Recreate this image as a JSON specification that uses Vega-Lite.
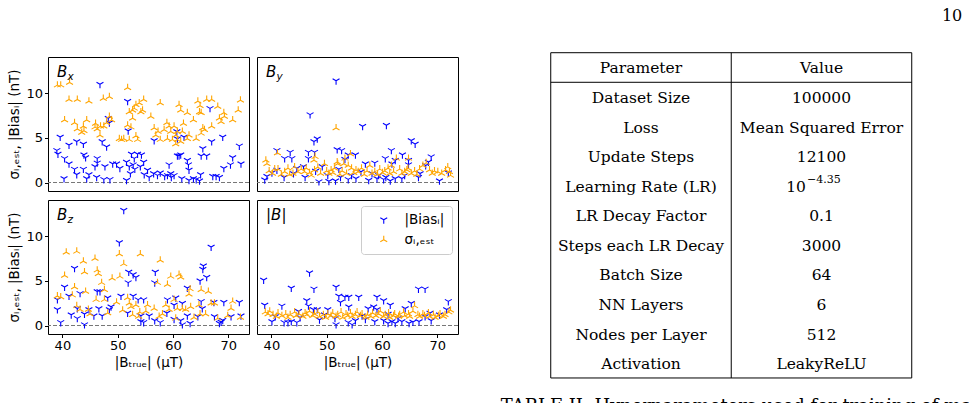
{
  "$schema": "https://vega.github.io/schema/vega-lite/v6.json",
  "background": "white",
  "padding": {"left": 7, "top": 8, "right": 0, "bottom": 0},
  "config": {
    "font": "DejaVu Sans",
    "view": {"stroke": "black", "strokeWidth": 1},
    "axis": {
      "domain": false, "grid": false, "ticks": true, "tickColor": "black", "tickWidth": 1, "tickSize": 3.5,
      "labelFont": "DejaVu Sans", "labelFontSize": 13, "labelColor": "black", "labelPadding": 2, "labelFlush": false,
      "titleFont": "DejaVu Sans", "titleFontSize": 13.5, "titleFontWeight": "normal", "titleColor": "black"
    }
  },
  "datasets": {
    "pts": [
      {"p":"Bx","s":"b","x":39.0,"y":3.6},{"p":"Bx","s":"b","x":39.2,"y":3.2},{"p":"Bx","s":"b","x":39.6,"y":5.1},{"p":"Bx","s":"b","x":40.4,"y":2.7},{"p":"Bx","s":"b","x":40.3,"y":0.45},{"p":"Bx","s":"b","x":41.2,"y":2.1},{"p":"Bx","s":"b","x":41.2,"y":4.2},{"p":"Bx","s":"b","x":42.2,"y":1.5},{"p":"Bx","s":"b","x":42.6,"y":0.9},{"p":"Bx","s":"b","x":42.6,"y":4.6},{"p":"Bx","s":"b","x":43.8,"y":4.3},{"p":"Bx","s":"b","x":43.8,"y":1.5},{"p":"Bx","s":"b","x":43.9,"y":3.1},{"p":"Bx","s":"b","x":44.2,"y":2.8},{"p":"Bx","s":"b","x":44.4,"y":0.45},{"p":"Bx","s":"b","x":44.8,"y":0.9},{"p":"Bx","s":"b","x":45.9,"y":1.8},{"p":"Bx","s":"b","x":46.3,"y":2.7},{"p":"Bx","s":"b","x":46.3,"y":2.2},{"p":"Bx","s":"b","x":46.2,"y":0.6},{"p":"Bx","s":"b","x":46.8,"y":11.0},{"p":"Bx","s":"b","x":47.2,"y":4.6},{"p":"Bx","s":"b","x":48.0,"y":4.0},{"p":"Bx","s":"b","x":47.7,"y":1.8},{"p":"Bx","s":"b","x":47.5,"y":0.35},{"p":"Bx","s":"b","x":48.3,"y":7.2},{"p":"Bx","s":"b","x":48.5,"y":6.7},{"p":"Bx","s":"b","x":48.6,"y":0.35},{"p":"Bx","s":"b","x":49.1,"y":2.1},{"p":"Bx","s":"b","x":49.8,"y":2.1},{"p":"Bx","s":"b","x":50.4,"y":1.6},{"p":"Bx","s":"b","x":51.8,"y":9.1},{"p":"Bx","s":"b","x":51.9,"y":5.8},{"p":"Bx","s":"b","x":51.6,"y":2.3},{"p":"Bx","s":"b","x":52.1,"y":1.8},{"p":"Bx","s":"b","x":51.6,"y":0.25},{"p":"Bx","s":"b","x":52.5,"y":3.2},{"p":"Bx","s":"b","x":53.0,"y":2.7},{"p":"Bx","s":"b","x":52.8,"y":2.0},{"p":"Bx","s":"b","x":53.1,"y":1.5},{"p":"Bx","s":"b","x":52.3,"y":1.0},{"p":"Bx","s":"b","x":53.6,"y":3.2},{"p":"Bx","s":"b","x":54.3,"y":3.1},{"p":"Bx","s":"b","x":54.1,"y":1.8},{"p":"Bx","s":"b","x":54.7,"y":2.3},{"p":"Bx","s":"b","x":54.8,"y":0.9},{"p":"Bx","s":"b","x":55.7,"y":0.6},{"p":"Bx","s":"b","x":56.6,"y":4.7},{"p":"Bx","s":"b","x":56.5,"y":1.0},{"p":"Bx","s":"b","x":57.2,"y":0.8},{"p":"Bx","s":"b","x":57.7,"y":1.1},{"p":"Bx","s":"b","x":58.5,"y":0.7},{"p":"Bx","s":"b","x":59.0,"y":0.8},{"p":"Bx","s":"b","x":59.3,"y":2.0},{"p":"Bx","s":"b","x":59.6,"y":1.0},{"p":"Bx","s":"b","x":59.7,"y":0.6},{"p":"Bx","s":"b","x":60.2,"y":0.8},{"p":"Bx","s":"b","x":60.7,"y":5.7},{"p":"Bx","s":"b","x":60.8,"y":4.9},{"p":"Bx","s":"b","x":60.8,"y":3.0},{"p":"Bx","s":"b","x":61.1,"y":3.0},{"p":"Bx","s":"b","x":61.4,"y":3.1},{"p":"Bx","s":"b","x":61.6,"y":0.45},{"p":"Bx","s":"b","x":62.0,"y":5.1},{"p":"Bx","s":"b","x":62.6,"y":2.5},{"p":"Bx","s":"b","x":62.8,"y":2.0},{"p":"Bx","s":"b","x":62.9,"y":1.4},{"p":"Bx","s":"b","x":62.9,"y":0.25},{"p":"Bx","s":"b","x":63.7,"y":0.45},{"p":"Bx","s":"b","x":64.2,"y":0.35},{"p":"Bx","s":"b","x":64.8,"y":0.2},{"p":"Bx","s":"b","x":65.0,"y":0.9},{"p":"Bx","s":"b","x":65.1,"y":3.0},{"p":"Bx","s":"b","x":65.4,"y":3.8},{"p":"Bx","s":"b","x":66.1,"y":3.0},{"p":"Bx","s":"b","x":66.7,"y":8.3},{"p":"Bx","s":"b","x":67.0,"y":4.6},{"p":"Bx","s":"b","x":67.2,"y":0.7},{"p":"Bx","s":"b","x":67.8,"y":0.7},{"p":"Bx","s":"b","x":68.4,"y":0.6},{"p":"Bx","s":"b","x":69.2,"y":1.6},{"p":"Bx","s":"b","x":69.0,"y":5.1},{"p":"Bx","s":"b","x":70.4,"y":2.0},{"p":"Bx","s":"b","x":70.8,"y":2.8},{"p":"Bx","s":"b","x":72.0,"y":4.1},{"p":"Bx","s":"b","x":72.3,"y":2.1},{"p":"Bx","s":"b","x":55.4,"y":1.4},
      {"p":"Bx","s":"s","x":39.1,"y":10.9},{"p":"Bx","s":"s","x":39.7,"y":10.9},{"p":"Bx","s":"s","x":41.3,"y":11.2},{"p":"Bx","s":"s","x":41.2,"y":9.3},{"p":"Bx","s":"s","x":42.7,"y":9.3},{"p":"Bx","s":"s","x":44.8,"y":9.1},{"p":"Bx","s":"s","x":40.4,"y":7.0},{"p":"Bx","s":"s","x":42.2,"y":6.7},{"p":"Bx","s":"s","x":43.8,"y":6.3},{"p":"Bx","s":"s","x":44.4,"y":7.0},{"p":"Bx","s":"s","x":42.7,"y":6.0},{"p":"Bx","s":"s","x":43.9,"y":5.8},{"p":"Bx","s":"s","x":43.5,"y":5.6},{"p":"Bx","s":"s","x":46.0,"y":6.6},{"p":"Bx","s":"s","x":46.3,"y":6.0},{"p":"Bx","s":"s","x":46.9,"y":6.3},{"p":"Bx","s":"s","x":45.9,"y":6.2},{"p":"Bx","s":"s","x":46.8,"y":5.3},{"p":"Bx","s":"s","x":47.5,"y":6.3},{"p":"Bx","s":"s","x":48.0,"y":6.7},{"p":"Bx","s":"s","x":47.4,"y":9.4},{"p":"Bx","s":"s","x":48.5,"y":9.6},{"p":"Bx","s":"s","x":48.9,"y":7.0},{"p":"Bx","s":"s","x":48.5,"y":7.4},{"p":"Bx","s":"s","x":50.3,"y":4.9},{"p":"Bx","s":"s","x":50.7,"y":4.8},{"p":"Bx","s":"s","x":51.1,"y":4.9},{"p":"Bx","s":"s","x":51.8,"y":10.6},{"p":"Bx","s":"s","x":52.1,"y":7.9},{"p":"Bx","s":"s","x":51.8,"y":6.4},{"p":"Bx","s":"s","x":52.4,"y":6.2},{"p":"Bx","s":"s","x":52.7,"y":8.1},{"p":"Bx","s":"s","x":53.3,"y":8.7},{"p":"Bx","s":"s","x":53.0,"y":8.3},{"p":"Bx","s":"s","x":52.7,"y":7.2},{"p":"Bx","s":"s","x":52.1,"y":4.8},{"p":"Bx","s":"s","x":53.3,"y":5.2},{"p":"Bx","s":"s","x":53.6,"y":4.8},{"p":"Bx","s":"s","x":54.2,"y":7.9},{"p":"Bx","s":"s","x":54.7,"y":9.3},{"p":"Bx","s":"s","x":54.5,"y":8.1},{"p":"Bx","s":"s","x":53.9,"y":8.9},{"p":"Bx","s":"s","x":56.0,"y":7.4},{"p":"Bx","s":"s","x":56.6,"y":6.1},{"p":"Bx","s":"s","x":56.9,"y":5.3},{"p":"Bx","s":"s","x":57.7,"y":8.9},{"p":"Bx","s":"s","x":57.3,"y":5.7},{"p":"Bx","s":"s","x":57.7,"y":4.8},{"p":"Bx","s":"s","x":58.4,"y":5.9},{"p":"Bx","s":"s","x":58.9,"y":6.7},{"p":"Bx","s":"s","x":59.3,"y":6.3},{"p":"Bx","s":"s","x":59.6,"y":5.7},{"p":"Bx","s":"s","x":59.0,"y":4.9},{"p":"Bx","s":"s","x":59.9,"y":4.8},{"p":"Bx","s":"s","x":60.2,"y":6.3},{"p":"Bx","s":"s","x":60.5,"y":5.3},{"p":"Bx","s":"s","x":60.8,"y":5.7},{"p":"Bx","s":"s","x":60.8,"y":4.8},{"p":"Bx","s":"s","x":61.4,"y":4.6},{"p":"Bx","s":"s","x":61.1,"y":8.7},{"p":"Bx","s":"s","x":61.4,"y":8.1},{"p":"Bx","s":"s","x":61.9,"y":6.6},{"p":"Bx","s":"s","x":61.7,"y":5.7},{"p":"Bx","s":"s","x":60.5,"y":4.3},{"p":"Bx","s":"s","x":62.6,"y":7.8},{"p":"Bx","s":"s","x":62.9,"y":5.3},{"p":"Bx","s":"s","x":62.6,"y":4.9},{"p":"Bx","s":"s","x":63.7,"y":7.0},{"p":"Bx","s":"s","x":64.2,"y":4.9},{"p":"Bx","s":"s","x":64.5,"y":9.1},{"p":"Bx","s":"s","x":64.9,"y":8.6},{"p":"Bx","s":"s","x":64.8,"y":7.9},{"p":"Bx","s":"s","x":65.1,"y":7.8},{"p":"Bx","s":"s","x":65.4,"y":6.1},{"p":"Bx","s":"s","x":65.1,"y":5.5},{"p":"Bx","s":"s","x":65.7,"y":5.9},{"p":"Bx","s":"s","x":66.1,"y":9.3},{"p":"Bx","s":"s","x":67.0,"y":9.3},{"p":"Bx","s":"s","x":67.0,"y":6.3},{"p":"Bx","s":"s","x":68.1,"y":8.5},{"p":"Bx","s":"s","x":68.4,"y":7.2},{"p":"Bx","s":"s","x":68.7,"y":6.8},{"p":"Bx","s":"s","x":69.2,"y":7.8},{"p":"Bx","s":"s","x":69.3,"y":7.4},{"p":"Bx","s":"s","x":70.8,"y":7.0},{"p":"Bx","s":"s","x":71.8,"y":8.1},{"p":"Bx","s":"s","x":72.2,"y":9.2},
      {"p":"By","s":"b","x":51.7,"y":11.4},{"p":"By","s":"b","x":47.0,"y":7.6},{"p":"By","s":"b","x":56.5,"y":6.3},{"p":"By","s":"b","x":60.8,"y":6.4},{"p":"By","s":"b","x":48.3,"y":4.9},{"p":"By","s":"b","x":47.7,"y":4.6},{"p":"By","s":"b","x":65.3,"y":4.7},{"p":"By","s":"b","x":66.0,"y":4.3},{"p":"By","s":"b","x":51.9,"y":3.7},{"p":"By","s":"b","x":52.7,"y":3.6},{"p":"By","s":"b","x":41.0,"y":3.6},{"p":"By","s":"b","x":43.4,"y":3.4},{"p":"By","s":"b","x":42.4,"y":2.7},{"p":"By","s":"b","x":43.7,"y":2.7},{"p":"By","s":"b","x":46.7,"y":3.4},{"p":"By","s":"b","x":47.8,"y":3.4},{"p":"By","s":"b","x":46.7,"y":2.7},{"p":"By","s":"b","x":53.9,"y":3.1},{"p":"By","s":"b","x":53.3,"y":2.6},{"p":"By","s":"b","x":55.2,"y":3.1},{"p":"By","s":"b","x":61.7,"y":3.6},{"p":"By","s":"b","x":63.7,"y":3.1},{"p":"By","s":"b","x":68.9,"y":2.9},{"p":"By","s":"b","x":68.4,"y":2.3},{"p":"By","s":"b","x":60.6,"y":2.7},{"p":"By","s":"b","x":61.8,"y":2.1},{"p":"By","s":"b","x":62.4,"y":2.5},{"p":"By","s":"b","x":64.8,"y":2.5},{"p":"By","s":"b","x":58.7,"y":2.2},{"p":"By","s":"b","x":57.0,"y":2.1},{"p":"By","s":"b","x":45.8,"y":1.8},{"p":"By","s":"b","x":44.6,"y":1.6},{"p":"By","s":"b","x":49.2,"y":1.8},{"p":"By","s":"b","x":52.2,"y":1.5},{"p":"By","s":"b","x":41.0,"y":1.4},{"p":"By","s":"b","x":40.1,"y":1.1},{"p":"By","s":"b","x":39.2,"y":0.7},{"p":"By","s":"b","x":38.8,"y":0.3},{"p":"By","s":"b","x":42.3,"y":0.6},{"p":"By","s":"b","x":46.1,"y":0.6},{"p":"By","s":"b","x":48.6,"y":0.1},{"p":"By","s":"b","x":50.2,"y":0.8},{"p":"By","s":"b","x":50.4,"y":0.15},{"p":"By","s":"b","x":51.6,"y":0.2},{"p":"By","s":"b","x":52.5,"y":0.6},{"p":"By","s":"b","x":53.9,"y":0.35},{"p":"By","s":"b","x":54.5,"y":0.8},{"p":"By","s":"b","x":55.3,"y":0.45},{"p":"By","s":"b","x":57.6,"y":0.25},{"p":"By","s":"b","x":59.1,"y":0.45},{"p":"By","s":"b","x":59.4,"y":0.8},{"p":"By","s":"b","x":60.3,"y":0.35},{"p":"By","s":"b","x":60.7,"y":0.6},{"p":"By","s":"b","x":61.5,"y":0.2},{"p":"By","s":"b","x":62.4,"y":0.45},{"p":"By","s":"b","x":63.6,"y":0.45},{"p":"By","s":"b","x":64.1,"y":0.8},{"p":"By","s":"b","x":66.6,"y":0.6},{"p":"By","s":"b","x":66.9,"y":1.0},{"p":"By","s":"b","x":70.4,"y":0.2},{"p":"By","s":"b","x":72.0,"y":1.1},{"p":"By","s":"b","x":48.0,"y":1.3},{"p":"By","s":"b","x":58.2,"y":1.0},{"p":"By","s":"b","x":64.8,"y":2.0},{"p":"By","s":"b","x":67.9,"y":1.9},{"p":"By","s":"b","x":56.2,"y":1.2},{"p":"By","s":"b","x":44.0,"y":1.0},
      {"p":"By","s":"s","x":39.0,"y":2.5},{"p":"By","s":"s","x":39.2,"y":2.1},{"p":"By","s":"s","x":39.6,"y":1.3},{"p":"By","s":"s","x":40.2,"y":1.0},{"p":"By","s":"s","x":40.6,"y":1.5},{"p":"By","s":"s","x":41.1,"y":3.3},{"p":"By","s":"s","x":41.2,"y":1.5},{"p":"By","s":"s","x":41.8,"y":0.9},{"p":"By","s":"s","x":42.4,"y":1.2},{"p":"By","s":"s","x":43.0,"y":1.6},{"p":"By","s":"s","x":43.3,"y":0.9},{"p":"By","s":"s","x":43.9,"y":1.0},{"p":"By","s":"s","x":44.2,"y":1.75},{"p":"By","s":"s","x":44.8,"y":1.2},{"p":"By","s":"s","x":45.4,"y":1.5},{"p":"By","s":"s","x":46.0,"y":1.2},{"p":"By","s":"s","x":46.3,"y":1.6},{"p":"By","s":"s","x":46.9,"y":1.1},{"p":"By","s":"s","x":47.2,"y":0.8},{"p":"By","s":"s","x":47.7,"y":2.5},{"p":"By","s":"s","x":47.8,"y":1.4},{"p":"By","s":"s","x":47.9,"y":2.9},{"p":"By","s":"s","x":48.4,"y":1.7},{"p":"By","s":"s","x":48.9,"y":1.0},{"p":"By","s":"s","x":49.6,"y":2.1},{"p":"By","s":"s","x":50.0,"y":1.3},{"p":"By","s":"s","x":50.4,"y":1.0},{"p":"By","s":"s","x":50.8,"y":1.4},{"p":"By","s":"s","x":51.1,"y":1.1},{"p":"By","s":"s","x":51.4,"y":1.6},{"p":"By","s":"s","x":51.7,"y":6.1},{"p":"By","s":"s","x":51.9,"y":2.3},{"p":"By","s":"s","x":52.0,"y":2.1},{"p":"By","s":"s","x":52.4,"y":0.9},{"p":"By","s":"s","x":52.8,"y":1.3},{"p":"By","s":"s","x":53.1,"y":2.1},{"p":"By","s":"s","x":53.3,"y":2.7},{"p":"By","s":"s","x":53.6,"y":1.0},{"p":"By","s":"s","x":53.9,"y":1.9},{"p":"By","s":"s","x":54.3,"y":3.2},{"p":"By","s":"s","x":54.5,"y":1.6},{"p":"By","s":"s","x":54.9,"y":1.1},{"p":"By","s":"s","x":55.3,"y":1.4},{"p":"By","s":"s","x":55.7,"y":1.2},{"p":"By","s":"s","x":56.3,"y":1.6},{"p":"By","s":"s","x":56.8,"y":0.9},{"p":"By","s":"s","x":57.3,"y":1.3},{"p":"By","s":"s","x":57.8,"y":1.9},{"p":"By","s":"s","x":58.2,"y":1.0},{"p":"By","s":"s","x":58.7,"y":1.2},{"p":"By","s":"s","x":59.2,"y":0.9},{"p":"By","s":"s","x":59.6,"y":1.5},{"p":"By","s":"s","x":60.1,"y":1.1},{"p":"By","s":"s","x":60.5,"y":1.3},{"p":"By","s":"s","x":61.1,"y":1.6},{"p":"By","s":"s","x":61.4,"y":1.0},{"p":"By","s":"s","x":61.7,"y":1.9},{"p":"By","s":"s","x":62.1,"y":1.2},{"p":"By","s":"s","x":62.6,"y":2.7},{"p":"By","s":"s","x":63.2,"y":1.5},{"p":"By","s":"s","x":63.6,"y":1.0},{"p":"By","s":"s","x":64.1,"y":1.2},{"p":"By","s":"s","x":64.5,"y":1.4},{"p":"By","s":"s","x":64.7,"y":1.6},{"p":"By","s":"s","x":64.8,"y":2.7},{"p":"By","s":"s","x":65.3,"y":1.0},{"p":"By","s":"s","x":65.9,"y":1.3},{"p":"By","s":"s","x":66.3,"y":0.9},{"p":"By","s":"s","x":66.8,"y":1.5},{"p":"By","s":"s","x":67.4,"y":1.9},{"p":"By","s":"s","x":68.0,"y":2.2},{"p":"By","s":"s","x":68.6,"y":1.4},{"p":"By","s":"s","x":69.1,"y":1.0},{"p":"By","s":"s","x":69.5,"y":1.3},{"p":"By","s":"s","x":70.1,"y":1.2},{"p":"By","s":"s","x":70.8,"y":1.0},{"p":"By","s":"s","x":71.5,"y":1.4},{"p":"By","s":"s","x":71.9,"y":1.75},{"p":"By","s":"s","x":72.2,"y":1.2},{"p":"By","s":"s","x":72.4,"y":0.8},
      {"p":"Bz","s":"b","x":51.1,"y":12.9},{"p":"Bz","s":"b","x":50.3,"y":9.3},{"p":"Bz","s":"b","x":66.9,"y":8.8},{"p":"Bz","s":"b","x":42.2,"y":6.4},{"p":"Bz","s":"b","x":52.0,"y":6.0},{"p":"Bz","s":"b","x":52.8,"y":5.7},{"p":"Bz","s":"b","x":53.3,"y":5.4},{"p":"Bz","s":"b","x":56.8,"y":6.0},{"p":"Bz","s":"b","x":56.7,"y":4.8},{"p":"Bz","s":"b","x":65.5,"y":6.7},{"p":"Bz","s":"b","x":65.4,"y":6.3},{"p":"Bz","s":"b","x":66.1,"y":5.4},{"p":"Bz","s":"b","x":64.9,"y":5.0},{"p":"Bz","s":"b","x":51.9,"y":4.8},{"p":"Bz","s":"b","x":40.4,"y":4.3},{"p":"Bz","s":"b","x":41.2,"y":3.3},{"p":"Bz","s":"b","x":50.6,"y":3.3},{"p":"Bz","s":"b","x":46.3,"y":3.8},{"p":"Bz","s":"b","x":46.8,"y":3.8},{"p":"Bz","s":"b","x":39.1,"y":2.9},{"p":"Bz","s":"b","x":48.2,"y":3.1},{"p":"Bz","s":"b","x":52.8,"y":3.3},{"p":"Bz","s":"b","x":53.7,"y":2.9},{"p":"Bz","s":"b","x":54.7,"y":2.9},{"p":"Bz","s":"b","x":62.6,"y":4.2},{"p":"Bz","s":"b","x":59.0,"y":2.9},{"p":"Bz","s":"b","x":60.5,"y":3.1},{"p":"Bz","s":"b","x":61.7,"y":2.5},{"p":"Bz","s":"b","x":60.2,"y":2.3},{"p":"Bz","s":"b","x":65.1,"y":2.7},{"p":"Bz","s":"b","x":67.4,"y":2.6},{"p":"Bz","s":"b","x":69.2,"y":2.6},{"p":"Bz","s":"b","x":72.0,"y":2.6},{"p":"Bz","s":"b","x":39.1,"y":1.8},{"p":"Bz","s":"b","x":42.7,"y":1.9},{"p":"Bz","s":"b","x":44.8,"y":1.8},{"p":"Bz","s":"b","x":46.6,"y":1.9},{"p":"Bz","s":"b","x":48.5,"y":1.8},{"p":"Bz","s":"b","x":48.8,"y":2.1},{"p":"Bz","s":"b","x":41.6,"y":1.2},{"p":"Bz","s":"b","x":42.7,"y":0.8},{"p":"Bz","s":"b","x":44.0,"y":1.3},{"p":"Bz","s":"b","x":45.7,"y":1.1},{"p":"Bz","s":"b","x":47.2,"y":1.1},{"p":"Bz","s":"b","x":39.7,"y":0.35},{"p":"Bz","s":"b","x":44.0,"y":0.1},{"p":"Bz","s":"b","x":51.8,"y":1.4},{"p":"Bz","s":"b","x":54.2,"y":1.1},{"p":"Bz","s":"b","x":54.7,"y":0.35},{"p":"Bz","s":"b","x":54.2,"y":0.45},{"p":"Bz","s":"b","x":55.7,"y":1.1},{"p":"Bz","s":"b","x":56.7,"y":0.55},{"p":"Bz","s":"b","x":57.7,"y":0.35},{"p":"Bz","s":"b","x":58.9,"y":1.4},{"p":"Bz","s":"b","x":60.2,"y":0.7},{"p":"Bz","s":"b","x":61.4,"y":0.55},{"p":"Bz","s":"b","x":61.7,"y":0.1},{"p":"Bz","s":"b","x":62.6,"y":1.1},{"p":"Bz","s":"b","x":63.1,"y":0.25},{"p":"Bz","s":"b","x":64.5,"y":1.0},{"p":"Bz","s":"b","x":65.3,"y":1.9},{"p":"Bz","s":"b","x":67.5,"y":1.0},{"p":"Bz","s":"b","x":68.4,"y":0.25},{"p":"Bz","s":"b","x":69.0,"y":0.6},{"p":"Bz","s":"b","x":70.5,"y":1.0},{"p":"Bz","s":"b","x":72.3,"y":1.1},{"p":"Bz","s":"b","x":68.7,"y":0.4},{"p":"Bz","s":"b","x":43.2,"y":3.6},
      {"p":"Bz","s":"s","x":40.7,"y":8.2},{"p":"Bz","s":"s","x":42.6,"y":8.3},{"p":"Bz","s":"s","x":54.1,"y":8.0},{"p":"Bz","s":"s","x":50.3,"y":8.0},{"p":"Bz","s":"s","x":51.1,"y":6.9},{"p":"Bz","s":"s","x":43.8,"y":7.2},{"p":"Bz","s":"s","x":45.9,"y":7.5},{"p":"Bz","s":"s","x":44.0,"y":6.0},{"p":"Bz","s":"s","x":46.3,"y":6.2},{"p":"Bz","s":"s","x":57.7,"y":7.3},{"p":"Bz","s":"s","x":40.4,"y":5.6},{"p":"Bz","s":"s","x":46.5,"y":5.8},{"p":"Bz","s":"s","x":49.0,"y":5.3},{"p":"Bz","s":"s","x":50.4,"y":5.5},{"p":"Bz","s":"s","x":59.6,"y":5.5},{"p":"Bz","s":"s","x":61.1,"y":5.7},{"p":"Bz","s":"s","x":61.4,"y":5.4},{"p":"Bz","s":"s","x":57.2,"y":4.8},{"p":"Bz","s":"s","x":47.1,"y":4.8},{"p":"Bz","s":"s","x":47.6,"y":4.0},{"p":"Bz","s":"s","x":42.2,"y":4.3},{"p":"Bz","s":"s","x":59.0,"y":4.6},{"p":"Bz","s":"s","x":63.1,"y":4.1},{"p":"Bz","s":"s","x":65.1,"y":4.0},{"p":"Bz","s":"s","x":62.9,"y":3.5},{"p":"Bz","s":"s","x":39.1,"y":3.3},{"p":"Bz","s":"s","x":39.7,"y":3.2},{"p":"Bz","s":"s","x":44.2,"y":3.8},{"p":"Bz","s":"s","x":47.6,"y":2.9},{"p":"Bz","s":"s","x":46.1,"y":2.9},{"p":"Bz","s":"s","x":51.8,"y":3.1},{"p":"Bz","s":"s","x":52.1,"y":2.5},{"p":"Bz","s":"s","x":52.4,"y":2.1},{"p":"Bz","s":"s","x":53.3,"y":2.3},{"p":"Bz","s":"s","x":55.4,"y":2.3},{"p":"Bz","s":"s","x":56.6,"y":1.9},{"p":"Bz","s":"s","x":58.7,"y":2.3},{"p":"Bz","s":"s","x":59.3,"y":1.8},{"p":"Bz","s":"s","x":60.2,"y":2.9},{"p":"Bz","s":"s","x":60.8,"y":1.9},{"p":"Bz","s":"s","x":61.7,"y":1.9},{"p":"Bz","s":"s","x":62.3,"y":1.8},{"p":"Bz","s":"s","x":63.2,"y":2.1},{"p":"Bz","s":"s","x":64.7,"y":2.3},{"p":"Bz","s":"s","x":66.9,"y":2.5},{"p":"Bz","s":"s","x":67.5,"y":2.5},{"p":"Bz","s":"s","x":70.8,"y":2.7},{"p":"Bz","s":"s","x":70.5,"y":1.9},{"p":"Bz","s":"s","x":42.6,"y":2.2},{"p":"Bz","s":"s","x":43.2,"y":1.8},{"p":"Bz","s":"s","x":44.7,"y":1.8},{"p":"Bz","s":"s","x":48.2,"y":1.4},{"p":"Bz","s":"s","x":52.7,"y":1.2},{"p":"Bz","s":"s","x":55.1,"y":1.6},{"p":"Bz","s":"s","x":57.5,"y":1.0},{"p":"Bz","s":"s","x":60.5,"y":0.8},{"p":"Bz","s":"s","x":64.9,"y":1.3},{"p":"Bz","s":"s","x":65.9,"y":1.3},{"p":"Bz","s":"s","x":68.1,"y":0.8},{"p":"Bz","s":"s","x":69.9,"y":1.1},{"p":"Bz","s":"s","x":72.2,"y":0.9},{"p":"Bz","s":"s","x":41.8,"y":3.4},{"p":"Bz","s":"s","x":49.8,"y":2.6},{"p":"Bz","s":"s","x":54.0,"y":1.5},{"p":"Bz","s":"s","x":58.1,"y":1.3},{"p":"Bz","s":"s","x":63.8,"y":0.9},{"p":"Bz","s":"s","x":66.4,"y":3.8},{"p":"Bz","s":"s","x":45.0,"y":1.3},{"p":"Bz","s":"s","x":50.9,"y":1.7},{"p":"Bz","s":"s","x":53.8,"y":1.0},
      {"p":"B","s":"b","x":38.6,"y":5.1},{"p":"B","s":"b","x":46.9,"y":5.9},{"p":"B","s":"b","x":43.6,"y":4.2},{"p":"B","s":"b","x":47.7,"y":4.1},{"p":"B","s":"b","x":51.7,"y":4.3},{"p":"B","s":"b","x":52.2,"y":3.3},{"p":"B","s":"b","x":52.5,"y":2.6},{"p":"B","s":"b","x":53.3,"y":3.2},{"p":"B","s":"b","x":54.0,"y":3.2},{"p":"B","s":"b","x":55.8,"y":3.2},{"p":"B","s":"b","x":66.6,"y":4.1},{"p":"B","s":"b","x":67.8,"y":4.1},{"p":"B","s":"b","x":72.0,"y":2.7},{"p":"B","s":"b","x":60.3,"y":2.8},{"p":"B","s":"b","x":59.1,"y":3.2},{"p":"B","s":"b","x":61.5,"y":2.3},{"p":"B","s":"b","x":65.3,"y":2.5},{"p":"B","s":"b","x":64.2,"y":1.9},{"p":"B","s":"b","x":38.8,"y":2.3},{"p":"B","s":"b","x":41.9,"y":2.2},{"p":"B","s":"b","x":46.4,"y":2.8},{"p":"B","s":"b","x":46.7,"y":2.2},{"p":"B","s":"b","x":47.6,"y":1.8},{"p":"B","s":"b","x":48.3,"y":1.8},{"p":"B","s":"b","x":50.2,"y":1.8},{"p":"B","s":"b","x":54.0,"y":2.1},{"p":"B","s":"b","x":57.5,"y":1.9},{"p":"B","s":"b","x":58.5,"y":2.1},{"p":"B","s":"b","x":59.1,"y":1.8},{"p":"B","s":"b","x":61.1,"y":1.3},{"p":"B","s":"b","x":68.7,"y":1.4},{"p":"B","s":"b","x":70.4,"y":1.2},{"p":"B","s":"b","x":71.7,"y":1.8},{"p":"B","s":"b","x":40.7,"y":1.0},{"p":"B","s":"b","x":40.1,"y":0.45},{"p":"B","s":"b","x":42.3,"y":0.35},{"p":"B","s":"b","x":43.0,"y":0.35},{"p":"B","s":"b","x":43.6,"y":0.45},{"p":"B","s":"b","x":44.6,"y":0.35},{"p":"B","s":"b","x":48.7,"y":0.65},{"p":"B","s":"b","x":51.7,"y":0.1},{"p":"B","s":"b","x":51.5,"y":0.8},{"p":"B","s":"b","x":53.9,"y":0.35},{"p":"B","s":"b","x":54.6,"y":0.1},{"p":"B","s":"b","x":55.2,"y":0.55},{"p":"B","s":"b","x":56.4,"y":1.1},{"p":"B","s":"b","x":58.7,"y":0.45},{"p":"B","s":"b","x":60.3,"y":0.55},{"p":"B","s":"b","x":61.1,"y":0.25},{"p":"B","s":"b","x":61.8,"y":0.45},{"p":"B","s":"b","x":62.4,"y":0.25},{"p":"B","s":"b","x":63.6,"y":0.45},{"p":"B","s":"b","x":64.9,"y":0.25},{"p":"B","s":"b","x":66.7,"y":0.45},{"p":"B","s":"b","x":67.8,"y":1.0},{"p":"B","s":"b","x":68.9,"y":0.55},{"p":"B","s":"b","x":45.2,"y":0.9},{"p":"B","s":"b","x":49.6,"y":1.2},{"p":"B","s":"b","x":57.0,"y":0.7},{"p":"B","s":"b","x":62.9,"y":0.8},{"p":"B","s":"b","x":65.6,"y":0.4},{"p":"B","s":"b","x":44.9,"y":1.6},
      {"p":"B","s":"s","x":38.9,"y":1.5},{"p":"B","s":"s","x":39.4,"y":1.3},{"p":"B","s":"s","x":39.7,"y":1.6},{"p":"B","s":"s","x":40.3,"y":1.2},{"p":"B","s":"s","x":40.9,"y":1.0},{"p":"B","s":"s","x":41.2,"y":1.4},{"p":"B","s":"s","x":41.9,"y":1.1},{"p":"B","s":"s","x":42.6,"y":1.3},{"p":"B","s":"s","x":43.0,"y":0.9},{"p":"B","s":"s","x":43.4,"y":1.2},{"p":"B","s":"s","x":44.2,"y":1.5},{"p":"B","s":"s","x":44.5,"y":1.1},{"p":"B","s":"s","x":45.0,"y":1.3},{"p":"B","s":"s","x":45.7,"y":1.0},{"p":"B","s":"s","x":46.1,"y":1.4},{"p":"B","s":"s","x":46.4,"y":1.2},{"p":"B","s":"s","x":46.9,"y":1.6},{"p":"B","s":"s","x":47.5,"y":1.1},{"p":"B","s":"s","x":47.8,"y":1.3},{"p":"B","s":"s","x":48.4,"y":1.5},{"p":"B","s":"s","x":48.7,"y":1.0},{"p":"B","s":"s","x":49.4,"y":1.2},{"p":"B","s":"s","x":49.8,"y":0.9},{"p":"B","s":"s","x":50.2,"y":1.3},{"p":"B","s":"s","x":50.8,"y":1.1},{"p":"B","s":"s","x":51.1,"y":1.4},{"p":"B","s":"s","x":51.7,"y":1.0},{"p":"B","s":"s","x":52.0,"y":1.2},{"p":"B","s":"s","x":52.6,"y":1.5},{"p":"B","s":"s","x":52.9,"y":0.9},{"p":"B","s":"s","x":53.5,"y":1.3},{"p":"B","s":"s","x":53.8,"y":1.1},{"p":"B","s":"s","x":54.3,"y":1.4},{"p":"B","s":"s","x":54.6,"y":1.0},{"p":"B","s":"s","x":55.2,"y":1.2},{"p":"B","s":"s","x":55.5,"y":1.5},{"p":"B","s":"s","x":56.1,"y":1.1},{"p":"B","s":"s","x":56.4,"y":1.3},{"p":"B","s":"s","x":57.1,"y":0.9},{"p":"B","s":"s","x":57.4,"y":1.2},{"p":"B","s":"s","x":58.0,"y":1.0},{"p":"B","s":"s","x":58.3,"y":1.4},{"p":"B","s":"s","x":58.9,"y":1.1},{"p":"B","s":"s","x":59.4,"y":1.3},{"p":"B","s":"s","x":59.7,"y":1.6},{"p":"B","s":"s","x":60.3,"y":1.0},{"p":"B","s":"s","x":60.6,"y":1.2},{"p":"B","s":"s","x":61.2,"y":1.4},{"p":"B","s":"s","x":61.4,"y":0.9},{"p":"B","s":"s","x":62.1,"y":1.1},{"p":"B","s":"s","x":62.3,"y":1.3},{"p":"B","s":"s","x":63.0,"y":1.0},{"p":"B","s":"s","x":63.2,"y":1.2},{"p":"B","s":"s","x":63.9,"y":1.5},{"p":"B","s":"s","x":64.1,"y":1.1},{"p":"B","s":"s","x":64.8,"y":1.3},{"p":"B","s":"s","x":65.0,"y":1.0},{"p":"B","s":"s","x":65.6,"y":1.6},{"p":"B","s":"s","x":65.9,"y":2.2},{"p":"B","s":"s","x":66.5,"y":1.2},{"p":"B","s":"s","x":66.8,"y":1.0},{"p":"B","s":"s","x":67.4,"y":1.3},{"p":"B","s":"s","x":67.7,"y":1.1},{"p":"B","s":"s","x":68.4,"y":1.4},{"p":"B","s":"s","x":68.6,"y":1.0},{"p":"B","s":"s","x":69.3,"y":1.2},{"p":"B","s":"s","x":69.6,"y":0.9},{"p":"B","s":"s","x":70.2,"y":1.1},{"p":"B","s":"s","x":70.5,"y":1.3},{"p":"B","s":"s","x":71.1,"y":1.0},{"p":"B","s":"s","x":71.4,"y":1.2},{"p":"B","s":"s","x":72.1,"y":1.5},{"p":"B","s":"s","x":72.4,"y":1.7}
    ],
    "tbl": [
      {"row": 0, "param": "Parameter", "value": "Value"},
      {"row": 1, "param": "Dataset Size", "value": "100000"},
      {"row": 2, "param": "Loss", "value": "Mean Squared Error"},
      {"row": 3, "param": "Update Steps", "value": "12100"},
      {"row": 4, "param": "Learning Rate (LR)", "value": "10", "exp": "−4.35"},
      {"row": 5, "param": "LR Decay Factor", "value": "0.1"},
      {"row": 6, "param": "Steps each LR Decay", "value": "3000"},
      {"row": 7, "param": "Batch Size", "value": "64"},
      {"row": 8, "param": "NN Layers", "value": "6"},
      {"row": 9, "param": "Nodes per Layer", "value": "512"},
      {"row": 10, "param": "Activation", "value": "LeakyReLU"}
    ],
    "edges": [
      {"x1": -0.5, "x2": 1.5, "y1": -0.5, "y2": -0.5},
      {"x1": -0.5, "x2": 1.5, "y1": 0.5, "y2": 0.5},
      {"x1": -0.5, "x2": 1.5, "y1": 10.5, "y2": 10.5},
      {"x1": -0.5, "x2": -0.5, "y1": -0.5, "y2": 10.5},
      {"x1": 0.5, "x2": 0.5, "y1": -0.5, "y2": 10.5},
      {"x1": 1.5, "x2": 1.5, "y1": -0.5, "y2": 10.5}
    ]
  },
  "spacing": 30,
  "hconcat": [
    {
      "columns": 2,
      "spacing": {"row": 7, "column": 6},
      "resolve": {"scale": {"color": "independent", "shape": "independent"}},
      "concat": [
        {
          "width": 201, "height": 134,
          "layer": [
            {"data": {"values": [{"level": 0}]}, "mark": {"type": "rule", "color": "#777777", "strokeWidth": 1, "strokeDash": [4, 2]},
             "encoding": {"y": {"datum": 0, "scale": {"domain": [-0.95, 14.05], "nice": false, "zero": false}, "axis": {"values": [0, 5, 10], "title": "σᵢ,ₑₛₜ, |Biasᵢ| (nT)", "titlePadding": 4}}}},
            {"data": {"name": "pts"}, "transform": [{"filter": "datum.p === 'Bx'"}],
             "mark": {"type": "point", "filled": false, "strokeWidth": 1.1, "size": 64, "opacity": 1},
             "encoding": {
               "x": {"field": "x", "type": "quantitative", "scale": {"domain": [37.4, 73.75], "nice": false, "zero": false}, "axis": null},
               "y": {"field": "y", "type": "quantitative", "scale": {"domain": [-0.95, 14.05], "nice": false, "zero": false}, "axis": {"values": [0, 5, 10], "title": "σᵢ,ₑₛₜ, |Biasᵢ| (nT)", "titlePadding": 4}},
               "color": {"field": "s", "type": "nominal", "scale": {"domain": ["b", "s"], "range": ["blue", "orange"]}, "legend": null},
               "shape": {"field": "s", "type": "nominal", "scale": {"domain": ["b", "s"], "range": ["M0,0L0,1M0,0L-0.866,-0.5M0,0L0.866,-0.5", "M0,0L0,-1M0,0L-0.866,0.5M0,0L0.866,0.5"]}, "legend": null}
             }},
            {"data": {"values": [{"t": "B"}]}, "mark": {"type": "text", "fontStyle": "italic", "fontSize": 15, "align": "left", "baseline": "alphabetic", "color": "black"},
             "encoding": {"x": {"datum": 39.05, "scale": {"domain": [37.4, 73.75], "nice": false, "zero": false}, "axis": null}, "y": {"datum": 11.86, "scale": {"domain": [-0.95, 14.05], "nice": false, "zero": false}, "axis": {"values": [0, 5, 10], "title": "σᵢ,ₑₛₜ, |Biasᵢ| (nT)", "titlePadding": 4}}, "text": {"field": "t"}}},
            {"data": {"values": [{"t": "x"}]}, "mark": {"type": "text", "fontStyle": "italic", "fontSize": 10.5, "align": "left", "baseline": "alphabetic", "dx": 10.5, "dy": 3.5, "color": "black"},
             "encoding": {"x": {"datum": 39.05, "scale": {"domain": [37.4, 73.75], "nice": false, "zero": false}, "axis": null}, "y": {"datum": 11.86, "scale": {"domain": [-0.95, 14.05], "nice": false, "zero": false}, "axis": {"values": [0, 5, 10], "title": "σᵢ,ₑₛₜ, |Biasᵢ| (nT)", "titlePadding": 4}}, "text": {"field": "t"}}}
          ]
        },
        {
          "width": 201, "height": 134,
          "layer": [
            {"data": {"values": [{"level": 0}]}, "mark": {"type": "rule", "color": "#777777", "strokeWidth": 1, "strokeDash": [4, 2]},
             "encoding": {"y": {"datum": 0, "scale": {"domain": [-0.95, 14.05], "nice": false, "zero": false}, "axis": null}}},
            {"data": {"name": "pts"}, "transform": [{"filter": "datum.p === 'By'"}],
             "mark": {"type": "point", "filled": false, "strokeWidth": 1.1, "size": 64, "opacity": 1},
             "encoding": {
               "x": {"field": "x", "type": "quantitative", "scale": {"domain": [37.4, 73.75], "nice": false, "zero": false}, "axis": null},
               "y": {"field": "y", "type": "quantitative", "scale": {"domain": [-0.95, 14.05], "nice": false, "zero": false}, "axis": null},
               "color": {"field": "s", "type": "nominal", "scale": {"domain": ["b", "s"], "range": ["blue", "orange"]}, "legend": null},
               "shape": {"field": "s", "type": "nominal", "scale": {"domain": ["b", "s"], "range": ["M0,0L0,1M0,0L-0.866,-0.5M0,0L0.866,-0.5", "M0,0L0,-1M0,0L-0.866,0.5M0,0L0.866,0.5"]}, "legend": null}
             }},
            {"data": {"values": [{"t": "B"}]}, "mark": {"type": "text", "fontStyle": "italic", "fontSize": 15, "align": "left", "baseline": "alphabetic", "color": "black"},
             "encoding": {"x": {"datum": 39.05, "scale": {"domain": [37.4, 73.75], "nice": false, "zero": false}, "axis": null}, "y": {"datum": 11.86, "scale": {"domain": [-0.95, 14.05], "nice": false, "zero": false}, "axis": null}, "text": {"field": "t"}}},
            {"data": {"values": [{"t": "y"}]}, "mark": {"type": "text", "fontStyle": "italic", "fontSize": 10.5, "align": "left", "baseline": "alphabetic", "dx": 10.5, "dy": 3.5, "color": "black"},
             "encoding": {"x": {"datum": 39.05, "scale": {"domain": [37.4, 73.75], "nice": false, "zero": false}, "axis": null}, "y": {"datum": 11.86, "scale": {"domain": [-0.95, 14.05], "nice": false, "zero": false}, "axis": null}, "text": {"field": "t"}}}
          ]
        },
        {
          "width": 201, "height": 134,
          "layer": [
            {"data": {"values": [{"level": 0}]}, "mark": {"type": "rule", "color": "#777777", "strokeWidth": 1, "strokeDash": [4, 2]},
             "encoding": {"y": {"datum": 0, "scale": {"domain": [-0.95, 14.05], "nice": false, "zero": false}, "axis": {"values": [0, 5, 10], "title": "σᵢ,ₑₛₜ, |Biasᵢ| (nT)", "titlePadding": 4}}}},
            {"data": {"name": "pts"}, "transform": [{"filter": "datum.p === 'Bz'"}],
             "mark": {"type": "point", "filled": false, "strokeWidth": 1.1, "size": 64, "opacity": 1},
             "encoding": {
               "x": {"field": "x", "type": "quantitative", "scale": {"domain": [37.4, 73.75], "nice": false, "zero": false}, "axis": {"values": [40, 50, 60, 70], "title": "|Bₜᵣᵤₑ| (μT)", "titlePadding": 3}},
               "y": {"field": "y", "type": "quantitative", "scale": {"domain": [-0.95, 14.05], "nice": false, "zero": false}, "axis": {"values": [0, 5, 10], "title": "σᵢ,ₑₛₜ, |Biasᵢ| (nT)", "titlePadding": 4}},
               "color": {"field": "s", "type": "nominal", "scale": {"domain": ["b", "s"], "range": ["blue", "orange"]}, "legend": null},
               "shape": {"field": "s", "type": "nominal", "scale": {"domain": ["b", "s"], "range": ["M0,0L0,1M0,0L-0.866,-0.5M0,0L0.866,-0.5", "M0,0L0,-1M0,0L-0.866,0.5M0,0L0.866,0.5"]}, "legend": null}
             }},
            {"data": {"values": [{"t": "B"}]}, "mark": {"type": "text", "fontStyle": "italic", "fontSize": 15, "align": "left", "baseline": "alphabetic", "color": "black"},
             "encoding": {"x": {"datum": 39.05, "scale": {"domain": [37.4, 73.75], "nice": false, "zero": false}, "axis": {"values": [40, 50, 60, 70], "title": "|Bₜᵣᵤₑ| (μT)", "titlePadding": 3}}, "y": {"datum": 11.86, "scale": {"domain": [-0.95, 14.05], "nice": false, "zero": false}, "axis": {"values": [0, 5, 10], "title": "σᵢ,ₑₛₜ, |Biasᵢ| (nT)", "titlePadding": 4}}, "text": {"field": "t"}}},
            {"data": {"values": [{"t": "z"}]}, "mark": {"type": "text", "fontStyle": "italic", "fontSize": 10.5, "align": "left", "baseline": "alphabetic", "dx": 10.5, "dy": 3.5, "color": "black"},
             "encoding": {"x": {"datum": 39.05, "scale": {"domain": [37.4, 73.75], "nice": false, "zero": false}, "axis": {"values": [40, 50, 60, 70], "title": "|Bₜᵣᵤₑ| (μT)", "titlePadding": 3}}, "y": {"datum": 11.86, "scale": {"domain": [-0.95, 14.05], "nice": false, "zero": false}, "axis": {"values": [0, 5, 10], "title": "σᵢ,ₑₛₜ, |Biasᵢ| (nT)", "titlePadding": 4}}, "text": {"field": "t"}}}
          ]
        },
        {
          "width": 201, "height": 134,
          "layer": [
            {"data": {"values": [{"level": 0}]}, "mark": {"type": "rule", "color": "#777777", "strokeWidth": 1, "strokeDash": [4, 2]},
             "encoding": {"y": {"datum": 0, "scale": {"domain": [-0.95, 14.05], "nice": false, "zero": false}, "axis": null}}},
            {"data": {"name": "pts"}, "transform": [{"filter": "datum.p === 'B'"}],
             "mark": {"type": "point", "filled": false, "strokeWidth": 1.1, "size": 64, "opacity": 1},
             "encoding": {
               "x": {"field": "x", "type": "quantitative", "scale": {"domain": [37.4, 73.75], "nice": false, "zero": false}, "axis": {"values": [40, 50, 60, 70], "title": "|Bₜᵣᵤₑ| (μT)", "titlePadding": 3}},
               "y": {"field": "y", "type": "quantitative", "scale": {"domain": [-0.95, 14.05], "nice": false, "zero": false}, "axis": null},
               "color": {"field": "s", "type": "nominal", "scale": {"domain": ["b", "s"], "range": ["blue", "orange"]},
                 "legend": {"orient": "top-right", "offset": 6, "title": null, "fillColor": "white", "strokeColor": "#cccccc", "cornerRadius": 3, "padding": 7, "rowPadding": 5, "symbolOffset": 9, "labelOffset": 14, "labelFont": "DejaVu Sans", "labelFontSize": 13.5, "labelColor": "black", "symbolSize": 64, "symbolStrokeWidth": 1.1, "labelExpr": "datum.label === 'b' ? '|Biasᵢ|' : 'σᵢ,ₑₛₜ'"}},
               "shape": {"field": "s", "type": "nominal", "scale": {"domain": ["b", "s"], "range": ["M0,0L0,1M0,0L-0.866,-0.5M0,0L0.866,-0.5", "M0,0L0,-1M0,0L-0.866,0.5M0,0L0.866,0.5"]},
                 "legend": {"orient": "top-right", "offset": 6, "title": null, "fillColor": "white", "strokeColor": "#cccccc", "cornerRadius": 3, "padding": 7, "rowPadding": 5, "symbolOffset": 9, "labelOffset": 14, "labelFont": "DejaVu Sans", "labelFontSize": 13.5, "labelColor": "black", "symbolSize": 64, "symbolStrokeWidth": 1.1, "labelExpr": "datum.label === 'b' ? '|Biasᵢ|' : 'σᵢ,ₑₛₜ'"}}
             }},
            {"data": {"values": [{"t": "|"}]}, "mark": {"type": "text", "fontSize": 15, "align": "left", "baseline": "alphabetic", "color": "black"},
             "encoding": {"x": {"datum": 39.05, "scale": {"domain": [37.4, 73.75], "nice": false, "zero": false}, "axis": {"values": [40, 50, 60, 70], "title": "|Bₜᵣᵤₑ| (μT)", "titlePadding": 3}}, "y": {"datum": 11.86, "scale": {"domain": [-0.95, 14.05], "nice": false, "zero": false}, "axis": null}, "text": {"field": "t"}}},
            {"data": {"values": [{"t": "B"}]}, "mark": {"type": "text", "fontStyle": "italic", "fontSize": 15, "align": "left", "baseline": "alphabetic", "dx": 5, "color": "black"},
             "encoding": {"x": {"datum": 39.05, "scale": {"domain": [37.4, 73.75], "nice": false, "zero": false}, "axis": {"values": [40, 50, 60, 70], "title": "|Bₜᵣᵤₑ| (μT)", "titlePadding": 3}}, "y": {"datum": 11.86, "scale": {"domain": [-0.95, 14.05], "nice": false, "zero": false}, "axis": null}, "text": {"field": "t"}}},
            {"data": {"values": [{"t": "|"}]}, "mark": {"type": "text", "fontSize": 15, "align": "left", "baseline": "alphabetic", "dx": 15.5, "color": "black"},
             "encoding": {"x": {"datum": 39.05, "scale": {"domain": [37.4, 73.75], "nice": false, "zero": false}, "axis": {"values": [40, 50, 60, 70], "title": "|Bₜᵣᵤₑ| (μT)", "titlePadding": 3}}, "y": {"datum": 11.86, "scale": {"domain": [-0.95, 14.05], "nice": false, "zero": false}, "axis": null}, "text": {"field": "t"}}}
          ]
        }
      ]
    },
    {
      "width": 480, "height": 346,
      "view": {"stroke": null},
      "layer": [
        {"data": {"name": "edges"}, "mark": {"type": "rule", "color": "black", "strokeWidth": 1},
         "encoding": {
           "x": {"field": "x1", "type": "quantitative", "scale": {"domain": [-0.8421, 1.8172], "nice": false, "zero": false}, "axis": null},
           "x2": {"field": "x2"},
           "y": {"field": "y1", "type": "quantitative", "scale": {"domain": [-0.355, 11.346], "nice": false, "zero": false, "reverse": true}, "axis": null},
           "y2": {"field": "y2"}
         }},
        {"data": {"name": "tbl"}, "mark": {"type": "text", "font": "DejaVu Serif", "fontSize": 15.5, "align": "center", "baseline": "middle", "dy": 1, "color": "black"},
         "encoding": {
           "x": {"datum": 0, "scale": {"domain": [-0.8421, 1.8172], "nice": false, "zero": false}, "axis": null},
           "y": {"field": "row", "type": "quantitative", "scale": {"domain": [-0.355, 11.346], "nice": false, "zero": false, "reverse": true}, "axis": null},
           "text": {"field": "param"}
         }},
        {"data": {"name": "tbl"}, "transform": [{"filter": "!datum.exp"}], "mark": {"type": "text", "font": "DejaVu Serif", "fontSize": 15.5, "align": "center", "baseline": "middle", "dy": 1, "color": "black"},
         "encoding": {
           "x": {"datum": 1, "scale": {"domain": [-0.8421, 1.8172], "nice": false, "zero": false}, "axis": null},
           "y": {"field": "row", "type": "quantitative", "scale": {"domain": [-0.355, 11.346], "nice": false, "zero": false, "reverse": true}, "axis": null},
           "text": {"field": "value"}
         }},
        {"data": {"name": "tbl"}, "transform": [{"filter": "datum.exp"}], "mark": {"type": "text", "font": "DejaVu Serif", "fontSize": 15.5, "align": "right", "baseline": "middle", "dy": 1, "color": "black"},
         "encoding": {
           "x": {"datum": 0.914, "scale": {"domain": [-0.8421, 1.8172], "nice": false, "zero": false}, "axis": null},
           "y": {"field": "row", "type": "quantitative", "scale": {"domain": [-0.355, 11.346], "nice": false, "zero": false, "reverse": true}, "axis": null},
           "text": {"field": "value"}
         }},
        {"data": {"name": "tbl"}, "transform": [{"filter": "datum.exp"}], "mark": {"type": "text", "font": "DejaVu Serif", "fontSize": 11, "align": "left", "baseline": "middle", "dx": 1, "dy": -6, "color": "black"},
         "encoding": {
           "x": {"datum": 0.914, "scale": {"domain": [-0.8421, 1.8172], "nice": false, "zero": false}, "axis": null},
           "y": {"field": "row", "type": "quantitative", "scale": {"domain": [-0.355, 11.346], "nice": false, "zero": false, "reverse": true}, "axis": null},
           "text": {"field": "exp"}
         }},
        {"data": {"values": [{"t": "10"}]}, "mark": {"type": "text", "font": "DejaVu Serif", "fontSize": 16, "align": "right", "baseline": "top", "color": "black"},
         "encoding": {
           "x": {"datum": 1.78, "scale": {"domain": [-0.8421, 1.8172], "nice": false, "zero": false}, "axis": null},
           "y": {"datum": -2.012, "scale": {"domain": [-0.355, 11.346], "nice": false, "zero": false, "reverse": true}, "axis": null},
           "text": {"field": "t"}
         }},
        {"data": {"values": [{"t": "TABLE II. Hyperparameters used for training of main network."}]}, "mark": {"type": "text", "font": "DejaVu Serif", "fontSize": 18, "align": "left", "baseline": "top", "clip": true, "color": "black"},
         "encoding": {
           "x": {"datum": -0.7773, "scale": {"domain": [-0.8421, 1.8172], "nice": false, "zero": false}, "axis": null},
           "y": {"datum": 11.19, "scale": {"domain": [-0.355, 11.346], "nice": false, "zero": false, "reverse": true}, "axis": null},
           "text": {"field": "t"}
         }}
      ]
    }
  ]
}
